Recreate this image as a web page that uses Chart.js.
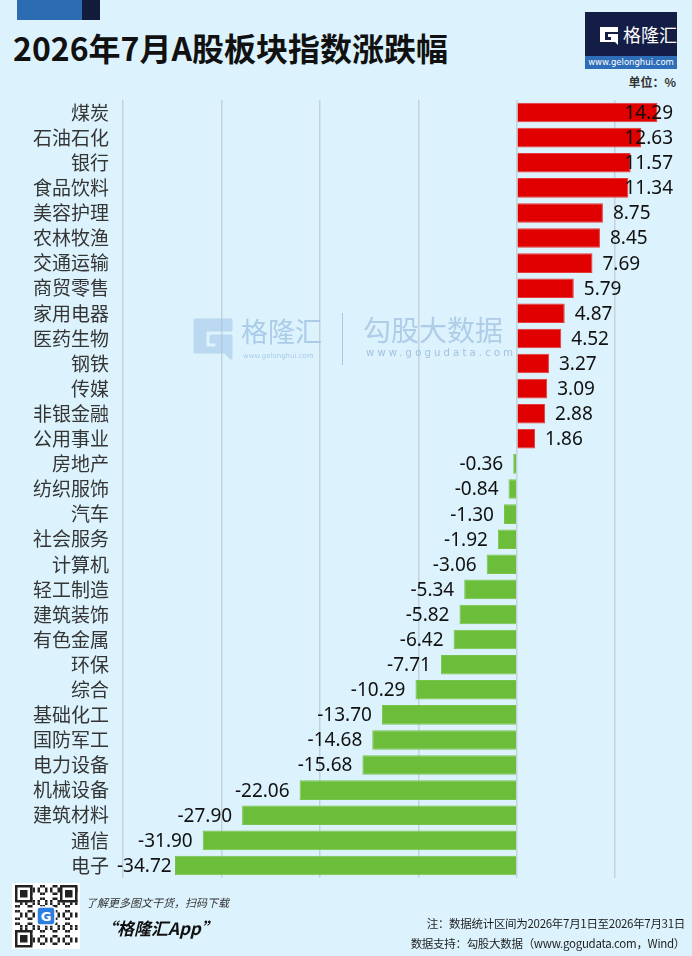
<!DOCTYPE html>
<html>
<head>
<meta charset="utf-8">
<script src="https://cdn.jsdelivr.net/npm/chart.js@4.4.1/dist/chart.umd.min.js"></script>
<style>
  html, body { margin: 0; padding: 0; background: #dcf3fd; }
  #page { position: relative; width: 692px; height: 956px; overflow: hidden; background: #dcf3fd;
          font-family: "Noto Sans CJK SC", "Noto Sans", sans-serif; }
  .abs { position: absolute; white-space: nowrap; }
  #chartBox { position: absolute; left: 0; top: 100px; width: 692px; height: 778px; }
  #watermark { position: absolute; left: 0; top: 0; width: 692px; height: 956px; pointer-events: none; }
</style>
</head>
<body>
<div id="page">
  <div class="abs" style="left:17px;top:0;width:65px;height:20px;background:#2b6cb3;"></div>
  <div class="abs" style="left:82px;top:0;width:18px;height:20px;background:#131b3a;"></div>
  <div class="abs" style="left:13px;top:24px;font-size:32px;font-weight:bold;color:#111;">2026年7月A股板块指数涨跌幅</div>

  <div class="abs" style="left:585px;top:12px;width:92px;height:57px;background:#141d45;">
    <svg class="abs" style="left:13px;top:13px" width="22" height="22" viewBox="0 0 22 22">
      <path d="M2 2 H20 V7 H7 V15 H13 V12 H10 V9 H20 V20 L17 17 H2 Z" fill="#fff"/>
    </svg>
    <div class="abs" style="left:38px;top:9px;font-size:18px;color:#fff;">格隆汇</div>
    <div class="abs" style="left:0;top:44px;width:92px;height:13px;background:#2e6db8;color:#fff;font-size:8.5px;line-height:13px;text-align:center;font-family:'DejaVu Sans',sans-serif;">www.gelonghui.com</div>
  </div>
  <div class="abs" style="right:16px;top:73px;font-size:12px;font-weight:bold;color:#333;">单位：%</div>

  <div id="chartBox"><canvas id="myChart"></canvas></div>

  <div id="watermark">
    <svg class="abs" style="left:193px;top:318px;opacity:0.55" width="40" height="42" viewBox="0 0 40 42">
      <path d="M2 2 H38 V12 H12 V30 H24 V24 H18 V18 H38 V40 L32 34 H2 Z" fill="#9fc2e3" stroke="#9fc2e3" stroke-linejoin="round" stroke-width="3"/>
    </svg>
    <div class="abs" style="left:241px;top:311px;font-size:27px;color:#9fc2e3;opacity:0.8;">格隆汇</div>
    <div class="abs" style="left:243px;top:352px;font-size:7px;color:#9fc2e3;opacity:0.8;font-family:'DejaVu Sans',sans-serif;">www.gelonghui.com</div>
    <div class="abs" style="left:342px;top:313px;width:1px;height:52px;background:#a9c6e2;"></div>
    <div class="abs" style="left:363px;top:309px;font-size:28px;color:#a7c5e4;opacity:0.85;">勾股大数据</div>
    <div class="abs" style="left:366px;top:347px;font-size:10px;letter-spacing:3.2px;color:#98b8da;opacity:0.85;font-family:'DejaVu Sans',sans-serif;">www.gogudata.com</div>
  </div>

  <svg class="abs" id="qr" style="left:12px;top:883px" width="68" height="66"></svg>
  <div class="abs" style="left:86px;top:894px;font-size:11px;font-style:italic;color:#333;">了解更多图文干货，扫码下载</div>
  <div class="abs" style="left:100px;top:915px;font-size:17px;font-style:italic;font-weight:bold;color:#111;">“格隆汇App”</div>
  <div class="abs" style="right:7px;top:915px;font-size:11.5px;color:#1e1e1e;letter-spacing:-0.3px;">注：数据统计区间为2026年7月1日至2026年7月31日</div>
  <div class="abs" style="right:7px;top:935px;font-size:11.5px;color:#1e1e1e;letter-spacing:-0.3px;">数据支持：勾股大数据（www.gogudata.com，Wind）</div>
</div>

<script>
const categories = ['煤炭', '石油石化', '银行', '食品饮料', '美容护理', '农林牧渔', '交通运输', '商贸零售',
    '家用电器', '医药生物', '钢铁', '传媒', '非银金融', '公用事业', '房地产', '纺织服饰', '汽车', '社会服务',
    '计算机', '轻工制造', '建筑装饰', '有色金属', '环保', '综合', '基础化工', '国防军工', '电力设备', '机械设备',
    '建筑材料', '通信', '电子'];
const changes = [14.29, 12.63, 11.57, 11.34, 8.75, 8.45, 7.69, 5.79, 4.87, 4.52, 3.27, 3.09, 2.88, 1.86,
    -0.36, -0.84, -1.30, -1.92, -3.06, -5.34, -5.82, -6.42, -7.71, -10.29, -13.70, -14.68, -15.68, -22.06,
    -27.90, -31.90, -34.72];
const xMin = -40;
const xMax = 17.8;

// QR-like badge for the footer
(function () {
    const svg = document.getElementById('qr');
    let s = '<rect width="68" height="66" fill="#fff"/>';
    const n = 25, m = 2.5, ox = 3, oy = 2;
    for (let i = 0; i < n; i++) {
        for (let j = 0; j < n; j++) {
            if ((i * 7 + j * 11 + i * j) % 5 < 2) {
                s += `<rect x="${ox + j * m}" y="${oy + i * m}" width="${m}" height="${m}" fill="#222"/>`;
            }
        }
    }
    [[ox, oy], [ox + 18 * m, oy], [ox, oy + 18 * m]].forEach(([x, y]) => {
        s += `<rect x="${x}" y="${y}" width="${7 * m}" height="${7 * m}" fill="#222"/>`;
        s += `<rect x="${x + m}" y="${y + m}" width="${5 * m}" height="${5 * m}" fill="#fff"/>`;
        s += `<rect x="${x + 2 * m}" y="${y + 2 * m}" width="${3 * m}" height="${3 * m}" fill="#222"/>`;
    });
    s += '<rect x="25" y="24" width="18" height="18" rx="3" fill="#2d7ee0" stroke="#fff" stroke-width="1.5"/>';
    s += '<text x="34" y="38" font-size="13" font-weight="bold" fill="#fff" text-anchor="middle" font-family="DejaVu Sans">G</text>';
    svg.innerHTML = s;
})();

const valueLabels = {
    id: 'valueLabels',
    afterDatasetsDraw(chart) {
        const ctx = chart.ctx;
        const meta = chart.getDatasetMeta(0);
        ctx.save();
        ctx.font = '19px "Noto Sans", sans-serif';
        ctx.fillStyle = '#111';
        ctx.textBaseline = 'middle';
        meta.data.forEach((bar, i) => {
            const v = changes[i];
            const txt = v.toFixed(2);
            const w = ctx.measureText(txt).width;
            let x;
            if (v >= 0) {
                x = Math.min(bar.x + 10, 673 - w);
            } else {
                x = Math.max(bar.x - 10 - w, 117);
            }
            ctx.fillText(txt, x, bar.y + 1);
        });
        ctx.restore();
    }
};

document.addEventListener('DOMContentLoaded', () => {
    const ctx = document.getElementById('myChart').getContext('2d');

    new Chart(ctx, {
        type: 'bar',
        data: {
            labels: categories,
            datasets: [{
                data: changes,
                backgroundColor: changes.map(v => v >= 0 ? '#e00000' : '#6cbd3a'),
                borderColor: changes.map(v => v >= 0 ? '#e63a3a' : '#78c44a'),
                borderWidth: 1,
                barPercentage: 0.78,
                categoryPercentage: 1
            }]
        },
        options: {
            indexAxis: 'y',
            responsive: true,
            maintainAspectRatio: false,
            animation: false,
            layout: { padding: 0 },
            plugins: {
                legend: { display: false },
                tooltip: { enabled: false }
            },
            scales: {
                x: {
                    min: xMin,
                    max: xMax,
                    ticks: { display: false, stepSize: 10 },
                    border: { display: false },
                    grid: {
                        drawTicks: false,
                        lineWidth: 1.5,
                        color: c => (c.tick && c.tick.value % 10 === 0) ? '#c3d3dc' : 'transparent'
                    },
                    afterFit: scale => { scale.paddingLeft = 0; scale.paddingRight = 0; scale.height = 0; }
                },
                y: {
                    afterFit: scale => {
                        scale.width = 123;
                        scale.paddingTop = 0;
                        scale.paddingBottom = 0;
                    },
                    border: { display: false },
                    grid: { display: false, drawTicks: false },
                    ticks: {
                        autoSkip: false,
                        padding: 14,
                        color: '#353535',
                        font: { family: '"Noto Sans CJK SC", sans-serif', size: 19 }
                    }
                }
            }
        },
        plugins: [valueLabels]
    });
});
</script>
</body>
</html>
